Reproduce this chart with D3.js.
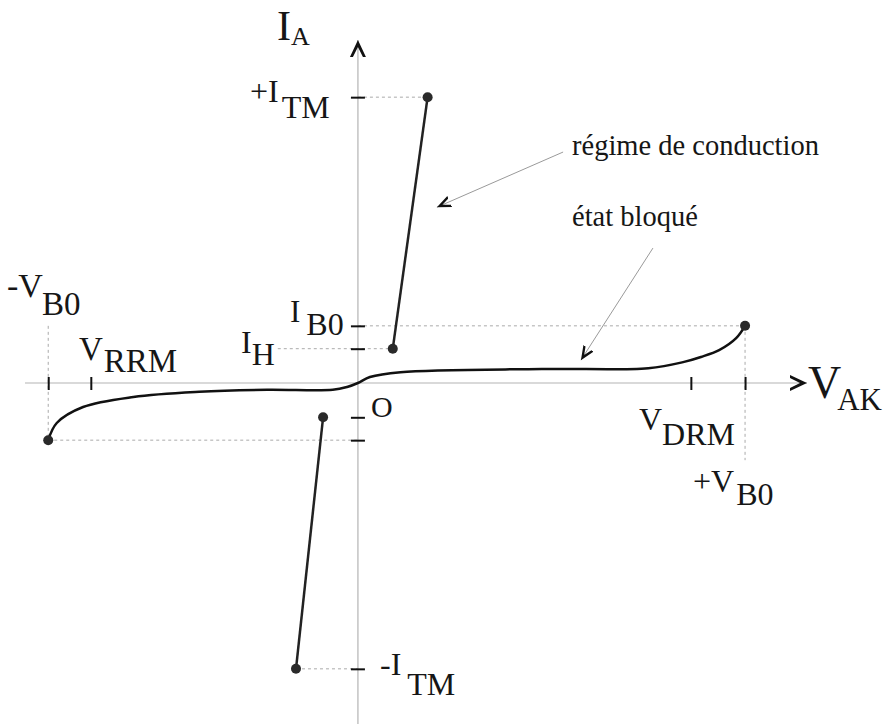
<!DOCTYPE html>
<html>
<head>
<meta charset="utf-8">
<script src="https://cdn.jsdelivr.net/npm/d3@7"></script>
<style>
  body { margin: 0; background: #fff; }
  text { font-family: 'Liberation Serif', 'Times New Roman', serif; fill: #161616; }
</style>
</head>
<body>
<div id="svg-area"></div>
<script>
// caracteristique I_A = f(V_AK) d'un triac (unites arbitraires)
var v_ticks = [-80, -69, 86, 100];          // -VB0, VRRM, VDRM, +VB0
var i_ticks = [100, 20, 12, -12, -20, -100]; // +ITM, IB0, IH, -IH, -IB0, -ITM

// etat bloque, de -VB0 a +VB0
var blocked_v = [-80, -77.8, -71, -58, -41, -23.5, -6.5, -2.8, 0, 3.1, 11, 47.5, 75, 84, 88.6, 93.3, 97.7, 100];
var blocked_i = [-20, -14, -8.4, -4.9, -3.1, -2.4, -2.4, -1.4, 0, 2.1, 3.8, 4.9, 5.2, 7.3, 9.1, 11.5, 15.7, 20];

// regime de conduction
var on_pos_v = [9, 18],   on_pos_i = [12, 100];
var on_neg_v = [-9, -16], on_neg_i = [-12, -100];

// points remarquables
var dot_v = [-80, 100, 9, 18, -9, -16];
var dot_i = [-20, 20, 12, 100, -12, -100];

// lignes de rappel [v1, i1, v2, i2]
var guides = [
  [0, 100, 18, 100],
  [0, 20, 100, 20],
  [-20.7, 12, 9, 12],
  [-80, 20, -80, -20],
  [-80, -20, 0, -20],
  [-16, -100, 0, -100],
  [100, 20, 100, -27]
];

var svg_width = 886, svg_height = 724;

var x = d3.scaleLinear().domain([-86, 116]).range([25, 807]);
var y = d3.scaleLinear().domain([-120, 120]).range([726, 40]);

var svg = d3.select('#svg-area')
  .append('svg')
  .attr('width', svg_width)
  .attr('height', svg_height);

var defs = svg.append('defs');
defs.append('marker')
  .attr('id', 'axis_head')
  .attr('viewBox', '0 -9 17 18')
  .attr('refX', 17).attr('refY', 0)
  .attr('markerWidth', 17).attr('markerHeight', 18)
  .attr('markerUnits', 'userSpaceOnUse')
  .attr('orient', 'auto')
  .append('path')
  .attr('d', 'M0,-8 L17,0 L0,8 L0,5 L10,0 L0,-5 Z')
  .attr('fill', '#111');

defs.append('marker')
  .attr('id', 'note_head')
  .attr('viewBox', '0 -6 14 12')
  .attr('refX', 14).attr('refY', 0)
  .attr('markerWidth', 14).attr('markerHeight', 12)
  .attr('markerUnits', 'userSpaceOnUse')
  .attr('orient', 'auto')
  .append('path')
  .attr('d', 'M0,-6 L14,0 L0,6 L0,3.5 L8,0 L0,-3.5 Z')
  .attr('fill', '#111');

// axes
svg.append('line')
  .attr('x1', x(-86)).attr('y1', y(0))
  .attr('x2', x(116)).attr('y2', y(0))
  .attr('stroke', '#b4b4b4').attr('stroke-width', 1.2)
  .attr('marker-end', 'url(#axis_head)');

svg.append('line')
  .attr('x1', x(0)).attr('y1', y(-120))
  .attr('x2', x(0)).attr('y2', y(120))
  .attr('stroke', '#b4b4b4').attr('stroke-width', 1.2)
  .attr('marker-end', 'url(#axis_head)');

// lignes de rappel
svg.append('g')
  .selectAll('line')
  .data(guides)
  .enter()
  .append('line')
  .attr('x1', d => x(d[0])).attr('y1', d => y(d[1]))
  .attr('x2', d => x(d[2])).attr('y2', d => y(d[3]))
  .attr('stroke', '#aaaaaa')
  .attr('stroke-width', 1)
  .attr('stroke-dasharray', '3,3');

// graduations
var x_axis = svg.append('g')
  .attr('transform', 'translate(0,' + y(0) + ')')
  .call(d3.axisBottom(x).tickValues(v_ticks).tickFormat('').tickSizeOuter(0));
x_axis.select('.domain').remove();
x_axis.selectAll('.tick line')
  .attr('y1', -6).attr('y2', 7)
  .attr('stroke', '#111').attr('stroke-width', 2);

var y_axis = svg.append('g')
  .attr('transform', 'translate(' + x(0) + ',0)')
  .call(d3.axisLeft(y).tickValues(i_ticks).tickFormat('').tickSizeOuter(0));
y_axis.select('.domain').remove();
y_axis.selectAll('.tick line')
  .attr('x1', -7).attr('x2', 7)
  .attr('stroke', '#111').attr('stroke-width', 2);

// courbes
var line = d3.line()
  .x(d => x(d[0]))
  .y(d => y(d[1]));

svg.append('path')
  .datum(d3.zip(blocked_v, blocked_i))
  .attr('d', line.curve(d3.curveCatmullRom.alpha(0.5)))
  .attr('fill', 'none')
  .attr('stroke', '#111')
  .attr('stroke-width', 2.5);

[d3.zip(on_pos_v, on_pos_i), d3.zip(on_neg_v, on_neg_i)].forEach(function(pts) {
  svg.append('path')
    .datum(pts)
    .attr('d', d3.line().x(d => x(d[0])).y(d => y(d[1])))
    .attr('fill', 'none')
    .attr('stroke', '#222')
    .attr('stroke-width', 2.5);
});

svg.append('g')
  .selectAll('circle')
  .data(d3.zip(dot_v, dot_i))
  .enter()
  .append('circle')
  .attr('cx', d => x(d[0]))
  .attr('cy', d => y(d[1]))
  .attr('r', 5)
  .attr('fill', '#2a2a2a');

// etiquettes
var add_label = function(px, py, main, sub, size, sub_size, dx, dy) {
  var t = svg.append('text')
    .attr('x', px).attr('y', py)
    .attr('font-size', size + 'px');
  t.append('tspan').text(main);
  if (sub) {
    t.append('tspan')
      .attr('dx', dx).attr('dy', dy)
      .attr('font-size', sub_size + 'px')
      .text(sub);
  }
};

add_label(277, 40, 'I', 'A', 42, 26, 0, 5);
add_label(250, 102, '+I', 'TM', 32, 32, 3, 16);
add_label(7, 297, '-V', 'B0', 34, 33, -1, 18);
add_label(79, 360, 'V', 'RRM', 33, 33, 1, 12);
add_label(290, 322, 'I', 'B0', 31, 32, 6, 13);
add_label(241, 353, 'I', 'H', 32, 32, 0, 12);
add_label(371, 417, 'O', null, 30);
add_label(639, 430, 'V', 'DRM', 32, 32, 0, 15);
add_label(693, 492, '+V', 'B0', 32, 32, 2, 13);
add_label(808, 398, 'V', 'AK', 46, 31, -4, 12);
add_label(380, 675, '-I', 'TM', 32, 32, 6, 20);

// annotations
var notes = [
  {text: 'régime de conduction', tx: 572, ty: 155, from: [53, 80.8], to: [20.4, 61.5]},
  {text: 'état bloqué', tx: 572, ty: 226, from: [76.2, 47.2], to: [57.6, 8]}
];

notes.forEach(function(n) {
  svg.append('text')
    .attr('x', n.tx).attr('y', n.ty)
    .attr('font-size', '28.5px')
    .text(n.text);
  svg.append('line')
    .attr('x1', x(n.from[0])).attr('y1', y(n.from[1]))
    .attr('x2', x(n.to[0])).attr('y2', y(n.to[1]))
    .attr('stroke', '#9a9a9a')
    .attr('stroke-width', 1)
    .attr('marker-end', 'url(#note_head)');
});
</script>
</body>
</html>
